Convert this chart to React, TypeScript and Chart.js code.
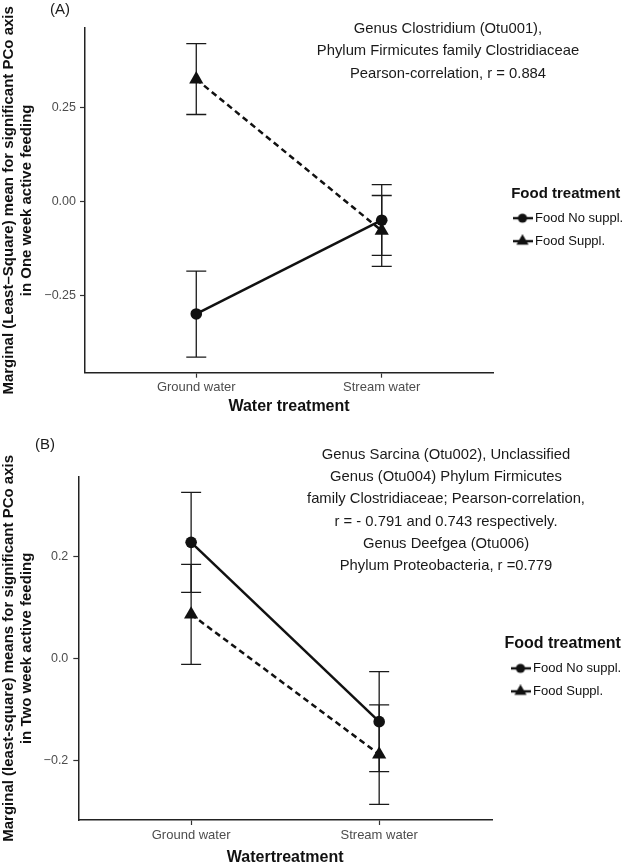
import React, { useEffect, useRef } from 'react';
import { Chart, registerables } from 'chart.js';

Chart.register(...registerables);

// ---------- data ----------
const waterLabels = ['Ground water', 'Stream water'];
const waterPositions = [0, 1];
const foodLabels = ['Food No suppl.', 'Food Suppl.'];

// Panel A (one week)
const aNoSupplMean = [-0.300, -0.050];
const aNoSupplLower = [-0.415, -0.144];
const aNoSupplUpper = [-0.186, 0.045];
const aSupplMean = [0.326, -0.078];
const aSupplLower = [0.232, -0.173];
const aSupplUpper = [0.421, 0.016];
const aYTicks = [-0.25, 0, 0.25];

// Panel B (two weeks)
const bNoSupplMean = [0.227, -0.124];
const bNoSupplLower = [0.129, -0.222];
const bNoSupplUpper = [0.325, -0.026];
const bSupplMean = [0.086, -0.188];
const bSupplLower = [-0.012, -0.286];
const bSupplUpper = [0.184, -0.091];
const bYTicks = [-0.2, 0, 0.2];

const aNote = [
  'Genus Clostridium (Otu001),',
  'Phylum Firmicutes family Clostridiaceae',
  'Pearson-correlation, r = 0.884',
];
const bNote = [
  'Genus Sarcina (Otu002), Unclassified',
  'Genus (Otu004) Phylum Firmicutes',
  'family Clostridiaceae; Pearson-correlation,',
  'r = - 0.791 and 0.743 respectively.',
  'Genus Deefgea (Otu006)',
  'Phylum Proteobacteria, r =0.779',
];
const aYTitle = ['Marginal (Least\u2013Square) mean for significant PCo axis', 'in One week active feeding'];
const bYTitle = ['Marginal (least-square) means for significant PCo axis', 'in Two week active feeding'];
const aXTitle = 'Water treatment';
const bXTitle = 'Watertreatment';
const legendTitle = 'Food treatment';

// ---------- helpers ----------
const FONT = "'Liberation Sans', Arial, Helvetica, sans-serif";
Chart.defaults.font.family = FONT;
Chart.defaults.color = '#1a1a1a';

function makeKey(marker: 'circle' | 'triangle'): HTMLCanvasElement {
  const c = document.createElement('canvas');
  c.width = 20;
  c.height = 14;
  const g = c.getContext('2d')!;
  g.strokeStyle = '#111';
  g.fillStyle = '#111';
  g.lineWidth = 2.4;
  g.beginPath();
  g.moveTo(0, 7);
  g.lineTo(20, 7);
  g.stroke();
  g.beginPath();
  if (marker === 'circle') {
    g.arc(10, 7, 4.6, 0, Math.PI * 2);
  } else {
    const r = 7;
    g.moveTo(10, 7 - r);
    g.lineTo(10 + r * 0.866, 7 + r / 2);
    g.lineTo(10 - r * 0.866, 7 + r / 2);
    g.closePath();
  }
  g.fill();
  return c;
}

function fmt(v: number, d: number) {
  return v.toFixed(d).replace('-', '\u2212');
}

type Series = { mean: number[]; lower: number[]; upper: number[]; dashed: boolean; marker: 'circle' | 'triangle'; radius: number };

type PanelCfg = {
  top: number;
  height: number;
  series: Series[];
  yTicks: number[];
  decimals: number;
  yTitle: string[];
  xTitle: string;
  note: string[];
  tag: string;
  lay: {
    padTop: number; padBottom: number; yAxisW: number; xAxisH: number; gapR: number; legendW: number;
    legendTitleSize: number; legendTitleAlign: 'start' | 'center'; xTickPad: number; yTickPad: number;
    tagX: number; tagY: number; noteX: number; noteY: number; noteStep: number;
  };
};

function Panel({ cfg }: { cfg: PanelCfg }) {
  const ref = useRef<HTMLCanvasElement>(null);
  useEffect(() => {
    const L = cfg.lay;
    let lo = Infinity, hi = -Infinity;
    cfg.series.forEach((s) => {
      s.lower.forEach((v) => (lo = Math.min(lo, v)));
      s.upper.forEach((v) => (hi = Math.max(hi, v)));
    });
    const ex = (hi - lo) * 0.05;

    const errorBars = {
      id: 'errorBars',
      beforeDatasetsDraw(chart: any) {
        const ctx = chart.ctx;
        const ys = chart.scales.y;
        chart.data.datasets.forEach((ds: any, di: number) => {
          const meta = chart.getDatasetMeta(di);
          meta.data.forEach((pt: any, i: number) => {
            const x = pt.x;
            const y1 = ys.getPixelForValue(ds.errLow[i]);
            const y2 = ys.getPixelForValue(ds.errHigh[i]);
            ctx.save();
            ctx.strokeStyle = '#1a1a1a';
            ctx.lineWidth = 1.3;
            ctx.beginPath();
            ctx.moveTo(x, y1);
            ctx.lineTo(x, y2);
            ctx.moveTo(x - 10, y1);
            ctx.lineTo(x + 10, y1);
            ctx.moveTo(x - 10, y2);
            ctx.lineTo(x + 10, y2);
            ctx.stroke();
            ctx.restore();
          });
        });
      },
    };

    const notes = {
      id: 'notes',
      afterDraw(chart: any) {
        const ctx = chart.ctx;
        ctx.save();
        ctx.fillStyle = '#1a1a1a';
        ctx.textBaseline = 'middle';
        ctx.textAlign = 'left';
        ctx.font = `15px ${FONT}`;
        ctx.fillText(cfg.tag, L.tagX, L.tagY);
        ctx.textAlign = 'center';
        ctx.font = `14.8px ${FONT}`;
        cfg.note.forEach((t, i) => ctx.fillText(t, L.noteX, L.noteY + i * L.noteStep));
        ctx.restore();
      },
    };

    const keys = [makeKey('circle'), makeKey('triangle')];
    const axisGrid = { display: true, drawOnChartArea: false, drawTicks: true, tickLength: 5, tickWidth: 1.2, tickColor: '#333' };
    const axisBorder = { display: true, color: '#222', width: 1.5 };

    const chart = new Chart(ref.current!, {
      type: 'line',
      data: {
        datasets: cfg.series.map((s, si) => ({
          label: foodLabels[si],
          data: waterPositions.map((x, i) => ({ x, y: s.mean[i] })),
          errLow: s.lower,
          errHigh: s.upper,
          borderColor: '#111',
          backgroundColor: '#111',
          borderWidth: 2.5,
          borderDash: s.dashed ? [6, 4] : [],
          pointStyle: s.marker,
          pointRadius: s.radius,
          pointBorderWidth: 0,
          pointBackgroundColor: '#111',
          tension: 0,
        })) as any,
      },
      options: {
        animation: false,
        responsive: false,
        devicePixelRatio: 1,
        layout: { padding: { top: L.padTop, bottom: L.padBottom, left: 0, right: 0 } },
        plugins: {
          tooltip: { enabled: false },
          legend: {
            display: true,
            position: 'right',
            align: 'center',
            maxWidth: L.legendW,
            title: {
              display: true,
              text: legendTitle,
              position: L.legendTitleAlign,
              color: '#111',
              font: { size: L.legendTitleSize, weight: 'bold', lineHeight: 1 },
              padding: { top: 0, bottom: 0 },
            },
            labels: {
              usePointStyle: true,
              boxWidth: 12,
              boxHeight: 12,
              padding: 10,
              color: '#1a1a1a',
              font: { size: 13 },
              generateLabels: () =>
                foodLabels.map((t, i) => ({
                  text: t,
                  pointStyle: keys[i] as any,
                  fillStyle: '#111',
                  strokeStyle: '#111',
                  lineWidth: 0,
                  hidden: false,
                  datasetIndex: i,
                })),
            },
          },
        },
        scales: {
          x: {
            type: 'linear',
            min: -0.6,
            max: 1.6,
            afterBuildTicks: (s: any) => {
              s.ticks = waterPositions.map((v) => ({ value: v }));
            },
            ticks: {
              callback: (v: any) => waterLabels[Math.round(Number(v))],
              color: '#4d4d4d',
              font: { size: 13 },
              padding: L.xTickPad,
              maxRotation: 0,
              autoSkip: false,
            },
            grid: axisGrid,
            border: axisBorder,
            title: {
              display: true,
              text: cfg.xTitle,
              color: '#111',
              font: { size: 16, weight: 'bold', lineHeight: 1.2 },
              padding: { top: 0, bottom: 0 },
            },
            afterFit: (s: any) => {
              s.height = L.xAxisH;
            },
          },
          y: {
            type: 'linear',
            min: lo - ex,
            max: hi + ex,
            afterBuildTicks: (s: any) => {
              s.ticks = cfg.yTicks.map((v) => ({ value: v }));
            },
            ticks: {
              callback: (v: any) => fmt(Number(v), cfg.decimals),
              color: '#4d4d4d',
              font: { size: 12.5 },
              padding: L.yTickPad,
            },
            grid: axisGrid,
            border: axisBorder,
            title: {
              display: true,
              text: cfg.yTitle,
              color: '#111',
              font: { size: 15, weight: 'bold', lineHeight: 1.2 },
              padding: { top: 0, bottom: 0 },
            },
            afterFit: (s: any) => {
              s.width = L.yAxisW;
            },
          },
          gap: {
            type: 'linear',
            position: 'right',
            display: true,
            ticks: { display: false },
            grid: { display: false },
            border: { display: false },
            afterFit: (s: any) => {
              s.width = L.gapR;
            },
          },
        } as any,
      },
      plugins: [errorBars, notes],
    });
    return () => chart.destroy();
  }, [cfg]);
  return (
    <canvas
      ref={ref}
      width={625}
      height={cfg.height}
      style={{ position: 'absolute', left: 0, top: cfg.top, width: 625, height: cfg.height }}
    />
  );
}

const panelA: PanelCfg = {
  top: 0,
  height: 430,
  series: [
    { mean: aNoSupplMean, lower: aNoSupplLower, upper: aNoSupplUpper, dashed: false, marker: 'circle', radius: 5.8 },
    { mean: aSupplMean, lower: aSupplLower, upper: aSupplUpper, dashed: true, marker: 'triangle', radius: 8.2 },
  ],
  yTicks: aYTicks,
  decimals: 2,
  yTitle: aYTitle,
  xTitle: aXTitle,
  note: aNote,
  tag: '(A)',
  lay: {
    padTop: 28, padBottom: 13.7, yAxisW: 85, xAxisH: 43.6, gapR: 13.5, legendW: 118.5,
    legendTitleSize: 15, legendTitleAlign: 'center', xTickPad: 1.5, yTickPad: 4,
    tagX: 50, tagY: 10, noteX: 448, noteY: 28.5, noteStep: 22.7,
  },
};

const panelB: PanelCfg = {
  top: 430,
  height: 437,
  series: [
    { mean: bNoSupplMean, lower: bNoSupplLower, upper: bNoSupplUpper, dashed: false, marker: 'circle', radius: 5.8 },
    { mean: bSupplMean, lower: bSupplLower, upper: bSupplUpper, dashed: true, marker: 'triangle', radius: 8.2 },
  ],
  yTicks: bYTicks,
  decimals: 1,
  yTitle: bYTitle,
  xTitle: bXTitle,
  note: bNote,
  tag: '(B)',
  lay: {
    padTop: 46.7, padBottom: 0, yAxisW: 78.3, xAxisH: 47, gapR: 12.5, legendW: 120.5,
    legendTitleSize: 16, legendTitleAlign: 'start', xTickPad: 3, yTickPad: 5,
    tagX: 35, tagY: 15, noteX: 446, noteY: 25, noteStep: 22.2,
  },
};

export default function App() {
  return (
    <div style={{ position: 'absolute', left: 0, top: 0, width: 625, height: 867, background: '#fff', overflow: 'hidden' }}>
      <Panel cfg={panelA} />
      <Panel cfg={panelB} />
    </div>
  );
}
